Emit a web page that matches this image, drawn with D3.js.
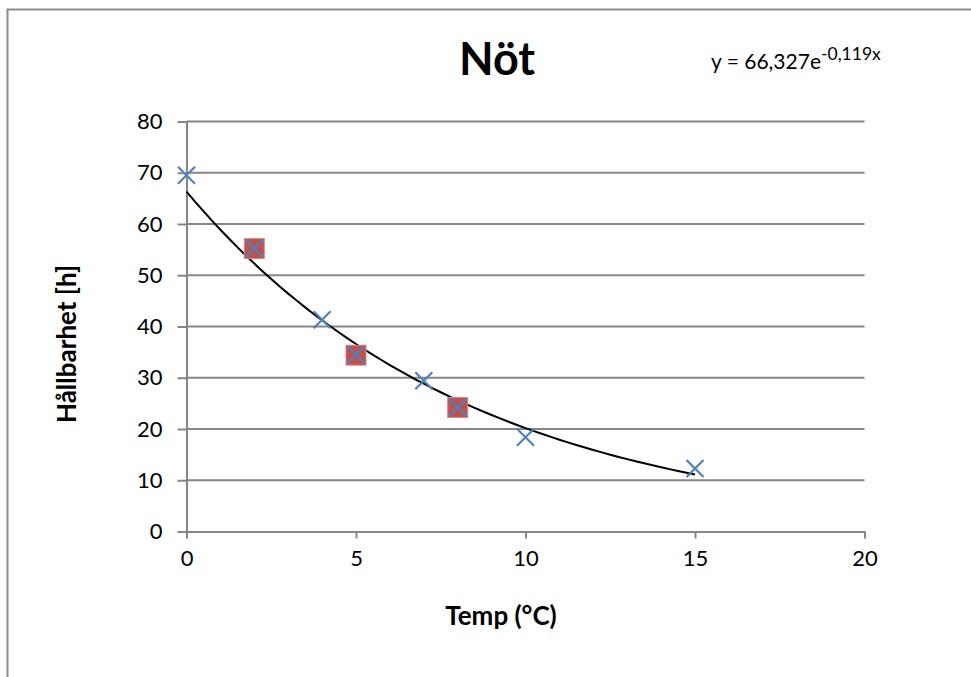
<!DOCTYPE html>
<html>
<head>
<meta charset="utf-8">
<script src="https://cdn.jsdelivr.net/npm/d3@7"></script>
<style>
  body { margin: 0; background: white; }
  text { font-family: Lato, "Open Sans", sans-serif; }
</style>
</head>
<body>
<div id="chart"></div>
<script>
// data
var temps = [0, 2, 4, 5, 7, 8, 10, 15];
var hours = [69.5, 55.2, 41.3, 34.5, 29.4, 24.2, 18.4, 12.3];
var sqTemps = [2, 5, 8];
var sqHours = [55.2, 34.4, 24.2];
var xTicks = [0, 5, 10, 15, 20];
var yTicks = [0, 10, 20, 30, 40, 50, 60, 70, 80];
var fitA = 66.327, fitB = -0.119;

var W = 971, H = 677;
var svg = d3.select("#chart").append("svg")
   .attr("width", W).attr("height", H);

// outer chart frame
svg.append("rect")
   .attr("x", 7.5).attr("y", 9.5)
   .attr("width", 1000).attr("height", 1000)
   .attr("fill", "white")
   .attr("stroke", "#8c8c8c").attr("stroke-width", 2);

var x = d3.scaleLinear().domain([0, 20]).range([186.5, 864.5]);
var y = d3.scaleLinear().domain([0, 80]).range([531.5, 121.5]);

// gridlines
svg.append("g").selectAll("line")
   .data(yTicks.slice(1))
   .enter().append("line")
   .attr("x1", x(0)).attr("x2", x(20))
   .attr("y1", d => y(d)).attr("y2", d => y(d))
   .attr("stroke", "#868686").attr("stroke-width", 2);

// axes
var xAxis = svg.append("g")
   .attr("transform", "translate(0," + y(0) + ")")
   .call(d3.axisBottom(x).tickValues(xTicks).tickSize(7).tickPadding(12).tickSizeOuter(0));
var yAxis = svg.append("g")
   .attr("transform", "translate(" + x(0) + ",0)")
   .call(d3.axisLeft(y).tickValues(yTicks).tickSize(9).tickPadding(15).tickSizeOuter(0));

[xAxis, yAxis].forEach(function (a) {
   a.select(".domain").attr("stroke", "#868686").attr("stroke-width", 2);
   a.selectAll(".tick line").attr("stroke", "#868686").attr("stroke-width", 2);
   a.selectAll(".tick text")
      .style("font-family", "Lato, 'Open Sans', sans-serif")
      .style("font-size", "22px").attr("fill", "#000");
});

// trendline
var fit = d3.range(0, 15.01, 0.25).map(t => [t, fitA * Math.exp(fitB * t)]);
svg.append("path")
   .datum(fit)
   .attr("d", d3.line().x(d => x(d[0])).y(d => y(d[1])))
   .attr("fill", "none").attr("stroke", "#000").attr("stroke-width", 2);

// square series
svg.append("g").selectAll("rect")
   .data(sqTemps)
   .enter().append("rect")
   .attr("x", (d, i) => x(d) - 10).attr("y", (d, i) => y(sqHours[i]) - 10)
   .attr("width", 20).attr("height", 20)
   .attr("fill", "#C0504D").attr("stroke", "#d88a88").attr("stroke-width", 1);

// cross series
var s = 8.5;
var crosses = svg.append("g").selectAll("path")
   .data(temps)
   .enter().append("path")
   .attr("d", (d, i) => {
      var cx = x(d), cy = y(hours[i]);
      return "M" + (cx - s) + "," + (cy - s) + "L" + (cx + s) + "," + (cy + s) +
         "M" + (cx - s) + "," + (cy + s) + "L" + (cx + s) + "," + (cy - s);
   })
   .attr("stroke", "#4F81BD").attr("stroke-width", 2.2).attr("fill", "none");

// titles
svg.append("text")
   .attr("x", 497).attr("y", 75)
   .attr("text-anchor", "middle")
   .style("font-size", "45px").style("font-weight", "bold")
   .text("Nöt");

var eq = svg.append("text")
   .attr("x", 711).attr("y", 69)
   .style("font-size", "21px");
eq.append("tspan").text("y = 66,327e");
eq.append("tspan").attr("dy", -9).style("font-size", "17.5px").text("-0,119x");

svg.append("text")
   .attr("x", 501).attr("y", 625)
   .attr("text-anchor", "middle")
   .style("font-size", "26px").style("font-weight", "bold")
   .text("Temp (°C)");

svg.append("text")
   .attr("transform", "translate(76,344) rotate(-90)")
   .attr("text-anchor", "middle")
   .style("font-size", "26px").style("font-weight", "bold")
   .text("Hållbarhet [h]");
</script>
</body>
</html>
